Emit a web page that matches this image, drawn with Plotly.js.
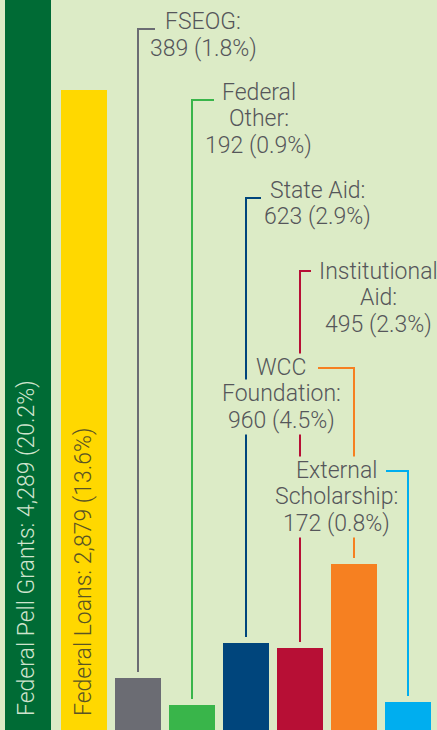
<!DOCTYPE html>
<html>
<head>
<meta charset="utf-8">
<script src="https://cdn.plot.ly/plotly-3.0.1.min.js"></script>
<style>
  html, body { margin: 0; padding: 0; background: #dcebc6; }
  #chart { width: 437px; height: 730px; }
</style>
</head>
<body>
<div id="chart"></div>
<script>
// ---- data ----
const categories = ['Federal Pell Grants', 'Federal Loans', 'FSEOG', 'Federal Other',
                    'State Aid', 'Institutional Aid', 'WCC Foundation', 'External Scholarship'];
const counts = [4289, 2879, 389, 192, 623, 495, 960, 172];           // labelled counts
const shares = ['20.2', '13.6', '1.8', '0.9', '2.9', '2.3', '4.5', '0.8']; // labelled shares (%)
const barHeights = [4289, 3760, 305, 147, 511, 482, 975, 165];      // bar heights as drawn in the picture
const barColors = ['#006b35', '#ffd800', '#6b6c73', '#39b54a', '#00457c', '#b70f35', '#f68021', '#00aeef'];
// how category names wrap in the call-out labels
const labelWrap = [null, null, ['FSEOG:'], ['Federal', 'Other:'], ['State Aid:'],
                   ['Institutional', 'Aid:'], ['WCC', 'Foundation:'], ['External', 'Scholarship:']];

// ---- layout geometry (pixels) ----
const W = 437, H = 730, ML = 3, MR = 2;
const PW = W - ML - MR;               // plot width (432)
const N = categories.length;
const SLOT = PW / N;                  // 54 px per category
const BARW = 46 / SLOT;               // bar width in category units
const yMax = counts[0];
const BG = '#dcebc6';
const TXT = '#55565a';
const FONT = 'Roboto, Liberation Sans, Arial, sans-serif';
const FW = 300;
const FS = 23, LINE = 26.7;

// the first bar sits 2px left of the regular spacing in the picture
const barOffsets = categories.map((c, i) => -BARW / 2 - (i === 0 ? 2 / SLOT : 0));

const pxToX = px => (px - ML) / SLOT - 0.5;
const pyToY = py => (H - py) / H * yMax;
const pxToPaper = px => (px - ML) / PW;
const pyToPaper = py => (H - py) / H;

// call-out placement: leader top y, horizontal end x, label centre x, first line centre y
const callouts = {
  2: {ly: 29,  hx: 155, tx: 203,   ty: 22},
  3: {ly: 100, hx: 214, tx: 258.5, ty: 92},
  4: {ly: 198, hx: 261, tx: 317.5, ty: 190},
  5: {ly: 271, hx: 311, tx: 378,   ty: 271},
  6: {ly: 368, hx: 318, tx: 281,   ty: 367},
  7: {ly: 471, hx: 386, tx: 336.5, ty: 470}
};
const gapPx = 6;

const fmt = n => n.toLocaleString('en-US');

const trace = {
  type: 'bar',
  x: categories.map((c, i) => i),
  y: barHeights,
  width: BARW,
  offset: barOffsets,
  marker: {color: barColors, line: {width: 0}},
  hoverinfo: 'skip'
};

const shapes = [];
const annotations = [];

Object.keys(callouts).forEach(k => {
  const i = +k, c = callouts[k];
  const y0 = barHeights[i] + gapPx / H * yMax;
  const y1 = pyToY(c.ly);
  shapes.push({
    type: 'path', xref: 'x', yref: 'y', layer: 'above',
    path: `M ${i} ${y0} L ${i} ${y1} L ${pxToX(c.hx)} ${y1}`,
    line: {color: barColors[i], width: 2}
  });
  const lines = labelWrap[i].concat([`${fmt(counts[i])} (${shares[i]}%)`]);
  lines.forEach((t, j) => {
    annotations.push({
      xref: 'paper', yref: 'paper',
      x: pxToPaper(c.tx), y: pyToPaper(c.ty + j * LINE),
      xanchor: 'center', yanchor: 'middle',
      text: t, showarrow: false,
      font: {family: FONT, size: FS, color: TXT, weight: FW},
      bgcolor: BG, borderpad: 0
    });
  });
});

// rotated labels inside the two tall bars
const inBar = [
  {i: 0, cx: 26, color: '#cfe4cd'},
  {i: 1, cx: 83, color: '#5a5424'}
];
inBar.forEach(b => {
  annotations.push({
    xref: 'paper', yref: 'paper',
    x: pxToPaper(b.cx), y: pyToPaper(717),
    xanchor: 'center', yanchor: 'bottom',
    textangle: -90,
    text: `${categories[b.i]}: ${fmt(counts[b.i])} (${shares[b.i]}%)`,
    showarrow: false,
    font: {family: FONT, size: FS, color: b.color, weight: FW},
    borderpad: 0
  });
});

const layout = {
  width: W, height: H,
  margin: {l: ML, r: MR, t: 0, b: 0, pad: 0},
  paper_bgcolor: BG, plot_bgcolor: BG,
  showlegend: false,
  xaxis: {range: [-0.5, N - 0.5], visible: false, fixedrange: true},
  yaxis: {range: [0, yMax], visible: false, fixedrange: true},
  shapes: shapes,
  annotations: annotations
};

Plotly.newPlot('chart', [trace], layout, {displayModeBar: false, staticPlot: true});
</script>
</body>
</html>
